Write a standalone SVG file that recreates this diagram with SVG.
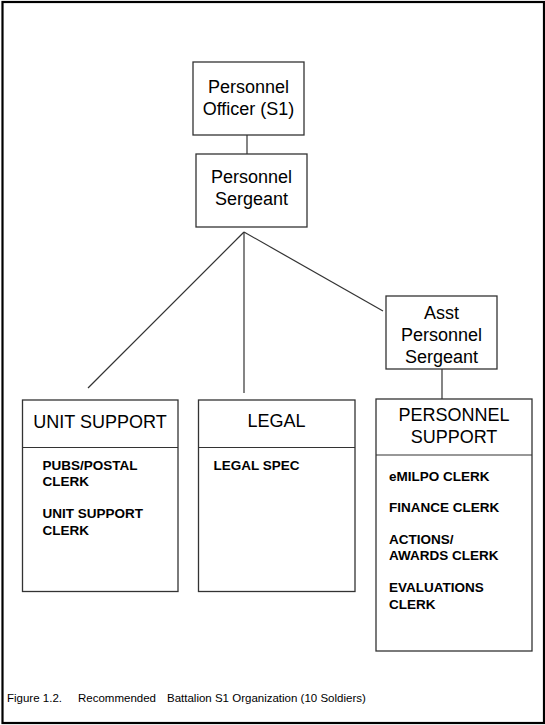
<svg xmlns="http://www.w3.org/2000/svg" width="545" height="725" viewBox="0 0 545 725">
<style>
.box{fill:#fff;stroke:#333;stroke-width:1.3}
.ln{stroke:#333;stroke-width:1.2;fill:none}
.t{font-family:"Liberation Sans",Arial,sans-serif;font-size:18px;fill:#000;text-anchor:middle}
.b{font-family:"Liberation Sans",Arial,sans-serif;font-size:13.5px;font-weight:bold;fill:#000}
.cap{font-family:"Liberation Sans",Arial,sans-serif;font-size:11.5px;fill:#000}
</style>
<rect x="2.5" y="2" width="541.5" height="721" fill="#fff" stroke="#000" stroke-width="2.2"/>
<g id="connectors">
<line class="ln" x1="247" y1="135" x2="247" y2="154"/>
<line class="ln" x1="244" y1="232" x2="88" y2="388"/>
<line class="ln" x1="244" y1="232" x2="244" y2="393"/>
<line class="ln" x1="244" y1="232" x2="383" y2="311"/>
<line class="ln" x1="442" y1="369" x2="442" y2="399"/>
</g>
<g id="officer">
<rect class="box" x="193" y="62" width="111" height="73"/>
<text class="t" x="248.5" y="93">Personnel</text>
<text class="t" x="248.5" y="115">Officer (S1)</text>
</g>
<g id="sergeant">
<rect class="box" x="196" y="154" width="111" height="73"/>
<text class="t" x="251.5" y="183">Personnel</text>
<text class="t" x="251.5" y="205">Sergeant</text>
</g>
<g id="asst">
<rect class="box" x="386" y="296" width="111" height="73"/>
<text class="t" x="441.5" y="319">Asst</text>
<text class="t" x="441.5" y="341">Personnel</text>
<text class="t" x="441.5" y="363">Sergeant</text>
</g>
<g id="unit-support">
<rect class="box" x="22.5" y="400" width="155.5" height="191.5"/>
<line class="ln" x1="22.5" y1="447.5" x2="178" y2="447.5"/>
<text class="t" x="100" y="428">UNIT SUPPORT</text>
<text class="b" x="42.5" y="470">PUBS/POSTAL</text>
<text class="b" x="42.5" y="486">CLERK</text>
<text class="b" x="42.5" y="518">UNIT SUPPORT</text>
<text class="b" x="42.5" y="535">CLERK</text>
</g>
<g id="legal">
<rect class="box" x="198.5" y="400" width="156.5" height="191.5"/>
<line class="ln" x1="198.5" y1="447.5" x2="355" y2="447.5"/>
<text class="t" x="276.5" y="427">LEGAL</text>
<text class="b" x="213.5" y="470">LEGAL SPEC</text>
</g>
<g id="personnel-support">
<rect class="box" x="376" y="399" width="156" height="252"/>
<line class="ln" x1="376" y1="455" x2="532" y2="455"/>
<text class="t" x="454" y="421">PERSONNEL</text>
<text class="t" x="454" y="443">SUPPORT</text>
<text class="b" x="389" y="481">eMILPO CLERK</text>
<text class="b" x="389" y="512">FINANCE CLERK</text>
<text class="b" x="389" y="544">ACTIONS/</text>
<text class="b" x="389" y="560">AWARDS CLERK</text>
<text class="b" x="389" y="592">EVALUATIONS</text>
<text class="b" x="389" y="609">CLERK</text>
</g>
<text class="cap" x="7" y="702">Figure 1.2.<tspan x="78">Recommended</tspan><tspan x="167">Battalion S1 Organization (10 Soldiers)</tspan></text>
</svg>
